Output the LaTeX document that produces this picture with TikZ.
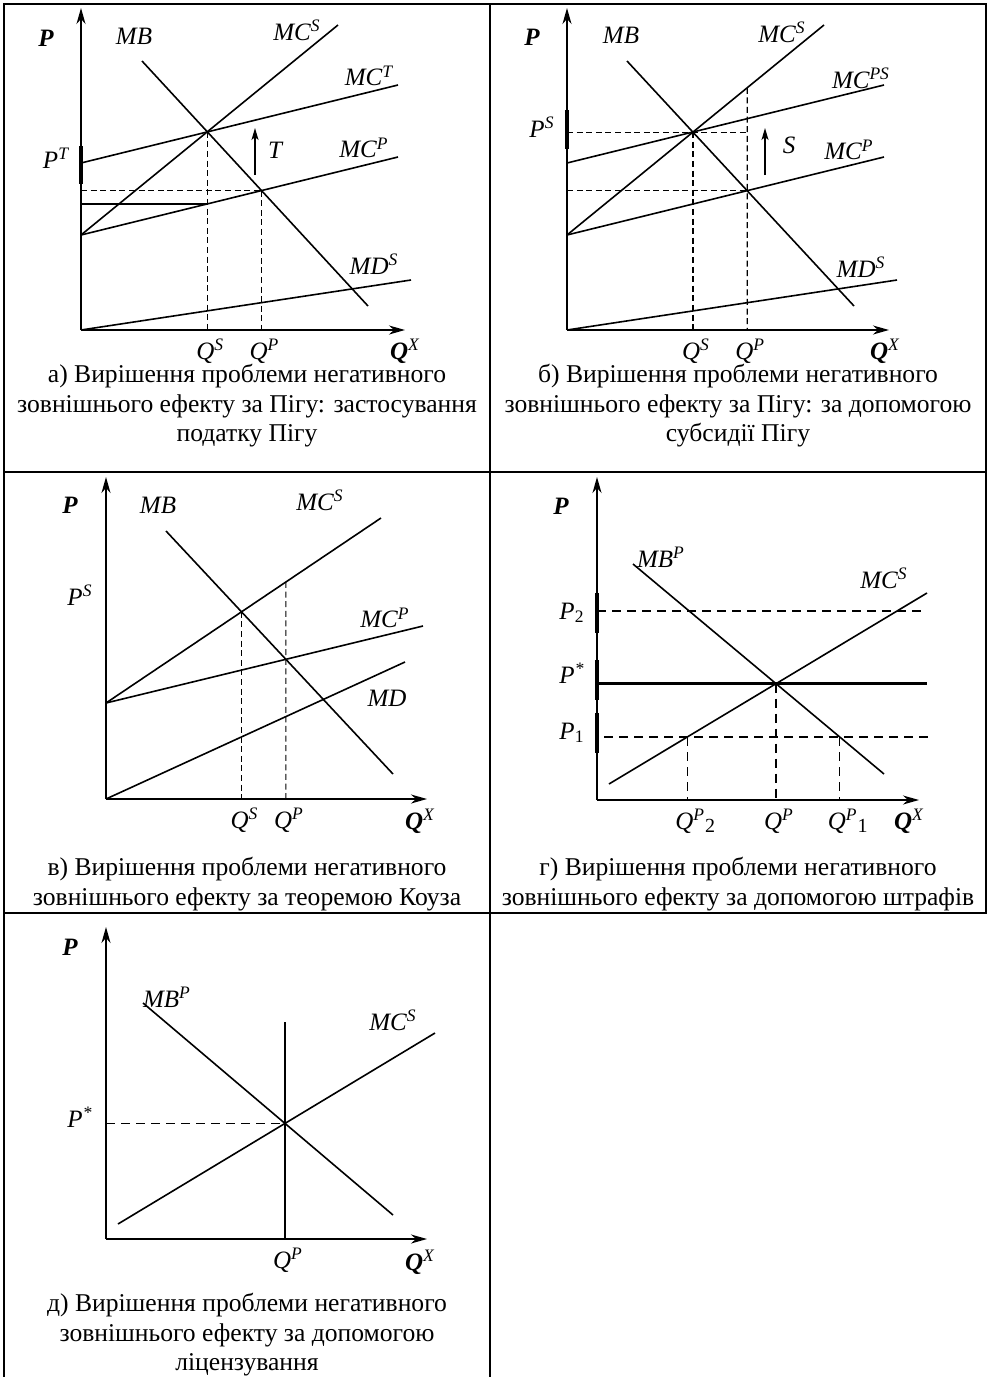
\documentclass[tikz,border=0pt]{standalone}
\usepackage{fontspec}
\setmainfont{Liberation Serif}
\usetikzlibrary{arrows.meta}
\tikzset{
  frame/.style={line width=1.3pt},
  axis/.style={line width=0.8pt,-{Stealth[length=8pt,width=4.5pt,inset=2.5pt]}},
  curve/.style={line width=0.8pt},
  guide/.style={line width=0.6pt,dash pattern=on 3pt off 1.8pt},
  guidelong/.style={line width=0.6pt,dash pattern=on 4.5pt off 3pt},
  pmark/.style={line width=1.6pt},
  fixline/.style={line width=1.4pt},
  rise/.style={line width=0.8pt,-{Stealth[length=6pt,width=3.5pt,inset=1.5pt]}},
  lab/.style={font=\fontsize{12.5}{14}\selectfont\itshape,inner sep=0pt},
  axlab/.style={font=\fontsize{12.5}{14}\selectfont\bfseries\itshape,inner sep=0pt},
  capt/.style={font=\fontsize{12.8}{14.75}\selectfont,align=center,inner sep=0pt}
}
\newcommand{\lowtwo}[1]{\raisebox{-1.5pt}{\fontsize{10}{12}\selectfont\upshape #1}}

\begin{document}
\begin{tikzpicture}[x=0.5pt,y=-0.5pt]
  \useasboundingbox (0,0) rectangle (988,1377);
  % table grid
  \draw[frame] (4,1377) -- (4,4) -- (986,4) -- (986,913) -- (4,913);
  \draw[frame] (4,472) -- (986,472);
  \draw[frame] (490,4) -- (490,1377);

  % a) tax
  \begin{scope}[shift={(81,330)}]
    \coordinate (o) at (0,0);
    \coordinate (mb1) at (61,-269);  \coordinate (mb2) at (287,-24);
    \coordinate (ms1) at (0,-95);    \coordinate (ms2) at (257,-305);
    \coordinate (mt1) at (0,-167);   \coordinate (mt2) at (317,-245);
    \coordinate (mp2) at (317,-173);
    \coordinate (md2) at (330,-50);
    \coordinate (e1) at (intersection of mb1--mb2 and ms1--ms2);
    \coordinate (e2) at (intersection of mb1--mb2 and ms1--mp2);
    \coordinate (qs) at (e1|-o);
    \coordinate (qp) at (e2|-o);
    \coordinate (f1) at (intersection of e1--qs and ms1--mp2);
    \draw[axis] (o) -- (0,-322);
    \draw[axis] (o) -- (324,0);
    \draw[curve] (mb1) -- (mb2);
    \draw[curve] (ms1) -- (ms2);
    \draw[curve] (mt1) -- (mt2);
    \draw[curve] (ms1) -- (mp2);
    \draw[curve] (o) -- (md2);
    \draw[guide] (e1) -- (qs);
    \draw[guide] (e2) -- (qp);
    \draw[guide] (e2-|o) -- (e2);
    \draw[curve] (f1-|o) -- (f1);
    \draw[pmark] (0,-184) -- (0,-146);
    \draw[rise] (174,-155) -- (174,-202);
    \node[axlab] (pa) at (-35,-292) {P};
    \node[lab] (mba) at (53,-294) {MB};
    \node[lab] (msa) at (216,-300) {MC\textsuperscript{S}};
    \node[lab] (mta) at (288,-254) {MC\textsuperscript{T}};
    \node[lab] (pta) at (-25,-172) {P\textsuperscript{T}};
    \node[lab] (ta) at (194,-180) {T};
    \node[lab] (mpa) at (283,-182) {MC\textsuperscript{P}};
    \node[lab] (mda) at (293,-66) {MD\textsuperscript{S}};
    \node[lab] (qsa) at ([shift={(3,21)}]qs) {Q\textsuperscript{S}};
    \node[lab] (qpa) at ([shift={(3,21)}]qp) {Q\textsuperscript{P}};
    \node[axlab] (qxa) at (324,21) {Q\textsuperscript{\mdseries X}};
  \end{scope}

  % b) subsidy
  \begin{scope}[shift={(567,330)}]
    \coordinate (o) at (0,0);
    \coordinate (mb1) at (60,-269);  \coordinate (mb2) at (287,-24);
    \coordinate (ms1) at (0,-95);    \coordinate (ms2) at (257,-305);
    \coordinate (mt1) at (0,-167);   \coordinate (mt2) at (317,-245);
    \coordinate (mp2) at (317,-173);
    \coordinate (md2) at (330,-50);
    \coordinate (e1) at (intersection of mb1--mb2 and ms1--ms2);
    \coordinate (e2) at (intersection of mb1--mb2 and ms1--mp2);
    \coordinate (qs) at (e1|-o);
    \coordinate (qp) at (e2|-o);
    \coordinate (g1) at (intersection of e2--qp and ms1--ms2);
    \draw[axis] (o) -- (0,-322);
    \draw[axis] (o) -- (322,0);
    \draw[curve] (mb1) -- (mb2);
    \draw[curve] (ms1) -- (ms2);
    \draw[curve] (mt1) -- (mt2);
    \draw[curve] (ms1) -- (mp2);
    \draw[curve] (o) -- (md2);
    \draw[guide] (e1) -- (qs);
    \draw[guide] (g1) -- (qp);
    \draw[guide] (e1-|o) -- (e1-|e2);
    \draw[guide] (e2-|o) -- (e2);
    \draw[pmark] (0,-220) -- (0,-181);
    \draw[rise] (198,-155) -- (198,-202);
    \node[axlab] (pb) at (-35,-293) {P};
    \node[lab] (mbb) at (54,-295) {MB};
    \node[lab] (msb) at (215,-298) {MC\textsuperscript{S}};
    \node[lab] (mtb) at (294,-252) {MC\textsuperscript{PS}};
    \node[lab] (psb) at (-25,-203) {P\textsuperscript{S}};
    \node[lab] (sb) at (222,-185) {S};
    \node[lab] (mpb) at (282,-180) {MC\textsuperscript{P}};
    \node[lab] (mdb) at (294,-63) {MD\textsuperscript{S}};
    \node[lab] (qsb) at ([shift={(3,21)}]qs) {Q\textsuperscript{S}};
    \node[lab] (qpb) at ([shift={(3,21)}]qp) {Q\textsuperscript{P}};
    \node[axlab] (qxb) at (318,21) {Q\textsuperscript{\mdseries X}};
  \end{scope}

  % c) Coase
  \begin{scope}[shift={(106,799)}]
    \coordinate (o) at (0,0);
    \coordinate (mb1) at (60,-268);  \coordinate (mb2) at (287,-25);
    \coordinate (ms1) at (0,-96);    \coordinate (ms2) at (275,-281);
    \coordinate (mp2) at (317,-173);
    \coordinate (md2) at (299,-137);
    \coordinate (e1) at (intersection of mb1--mb2 and ms1--ms2);
    \coordinate (e2) at (intersection of mb1--mb2 and ms1--mp2);
    \coordinate (qs) at (e1|-o);
    \coordinate (qp) at (e2|-o);
    \coordinate (g1) at (intersection of e2--qp and ms1--ms2);
    \draw[axis] (o) -- (0,-322);
    \draw[axis] (o) -- (321,0);
    \draw[curve] (mb1) -- (mb2);
    \draw[curve] (ms1) -- (ms2);
    \draw[curve] (ms1) -- (mp2);
    \draw[curve] (o) -- (md2);
    \draw[guide] (e1) -- (qs);
    \draw[guide] (g1) -- (qp);
    \draw[line width=1.2pt] (0,-219) -- (0,-181);
    \node[axlab] (pc) at (-36,-294) {P};
    \node[lab] (mbc) at (52,-294) {MB};
    \node[lab] (msc) at (214,-299) {MC\textsuperscript{S}};
    \node[lab] (psc) at (-26,-204) {P\textsuperscript{S}};
    \node[lab] (mpc) at (279,-181) {MC\textsuperscript{P}};
    \node[lab] (mdc) at (281,-101) {MD};
    \node[lab] (qsc) at ([shift={(3,21)}]qs) {Q\textsuperscript{S}};
    \node[lab] (qpc) at ([shift={(3,21)}]qp) {Q\textsuperscript{P}};
    \node[axlab] (qxc) at (314,22) {Q\textsuperscript{\mdseries X}};
  \end{scope}

  % d) fines
  \begin{scope}[shift={(597,800)}]
    \coordinate (o) at (0,0);
    \coordinate (mb1) at (36,-236);  \coordinate (mb2) at (287,-26);
    \coordinate (ms1) at (12,-16);   \coordinate (ms2) at (330,-207);
    \coordinate (p2a) at (0,-189);   \coordinate (p2b) at (330,-189);
    \coordinate (p1a) at (7,-63);    \coordinate (p1b) at (337,-63);
    \coordinate (e1) at (intersection of mb1--mb2 and ms1--ms2);
    \coordinate (q2) at (intersection of p1a--p1b and ms1--ms2);
    \coordinate (q1) at (intersection of p1a--p1b and mb1--mb2);
    \draw[axis] (o) -- (0,-323);
    \draw[axis] (o) -- (322,0);
    \draw[curve] (mb1) -- (mb2);
    \draw[curve] (ms1) -- (ms2);
    \draw[fixline] (e1-|o) -- (e1-|ms2);
    \draw[guidelong] (p2a) -- (p2b);
    \draw[guidelong] (p1a) -- (p1b);
    \draw[guidelong] (q2) -- (q2|-o);
    \draw[guidelong] (e1) -- (e1|-o);
    \draw[guidelong] (q1) -- (q1|-o);
    \draw[pmark] (0,-207) -- (0,-167);
    \draw[pmark] (0,-140) -- (0,-100);
    \draw[pmark] (0,-87) -- (0,-47);
    \node[axlab] (pd) at (-36,-294) {P};
    \node[lab] (p2d) at (-25,-187) {P\textsubscript{\upshape 2}};
    \node[lab] (psd) at (-25,-127) {P\textsuperscript{*}};
    \node[lab] (p1d) at (-25,-67) {P\textsubscript{\upshape 1}};
    \node[lab] (mbd) at (64,-243) {MB\textsuperscript{P}};
    \node[lab] (msd) at (287,-222) {MC\textsuperscript{S}};
    \node[lab] (q2d) at ([shift={(8,21)}]q2|-o) {Q\textsuperscript{P}\lowtwo{2}};
    \node[lab] (qpd) at ([shift={(3,21)}]e1|-o) {Q\textsuperscript{P}};
    \node[lab] (q1d) at ([shift={(8,21)}]q1|-o) {Q\textsuperscript{P}\lowtwo{1}};
    \node[axlab] (qxd) at (312,21) {Q\textsuperscript{\mdseries X}};
  \end{scope}

  % e) licensing
  \begin{scope}[shift={(106,1239)}]
    \coordinate (o) at (0,0);
    \coordinate (mb1) at (37,-236);  \coordinate (mb2) at (287,-24);
    \coordinate (ms1) at (12,-15);   \coordinate (ms2) at (329,-206);
    \coordinate (lic) at (0,-217);
    \coordinate (e1) at (intersection of mb1--mb2 and ms1--ms2);
    \draw[axis] (o) -- (0,-312);
    \draw[axis] (o) -- (321,0);
    \draw[curve] (mb1) -- (mb2);
    \draw[curve] (ms1) -- (ms2);
    \draw[fixline] (e1|-o) -- (e1|-lic);
    \draw[guidelong] (e1-|o) -- (e1);
    \draw[line width=1.2pt] (0,-139) -- (0,-100);
    \node[axlab] (pe) at (-36,-292) {P};
    \node[lab] (mbe) at (61,-242) {MB\textsuperscript{P}};
    \node[lab] (mse) at (287,-219) {MC\textsuperscript{S}};
    \node[lab] (pse) at (-26,-122) {P\textsuperscript{*}};
    \node[lab] (qpe) at ([shift={(3,21)}]e1|-o) {Q\textsuperscript{P}};
    \node[axlab] (qxe) at (314,23) {Q\textsuperscript{\mdseries X}};
  \end{scope}

  % captions
  \node[capt] (capa) at (247,406) {а) Вирішення проблеми негативного\\зовнішнього ефекту за Пігу: застосування\\податку Пігу};
  \node[capt] (capb) at (738,406) {б) Вирішення проблеми негативного\\зовнішнього ефекту за Пігу: за допомогою\\субсидії Пігу};
  \node[capt] (capc) at (247,884) {в) Вирішення проблеми негативного\\зовнішнього ефекту за теоремою Коуза};
  \node[capt] (capd) at (738,884) {г) Вирішення проблеми негативного\\зовнішнього ефекту за допомогою штрафів};
  \node[capt] (cape) at (247,1335) {д) Вирішення проблеми негативного\\зовнішнього ефекту за допомогою\\ліцензування};
\end{tikzpicture}
\end{document}
